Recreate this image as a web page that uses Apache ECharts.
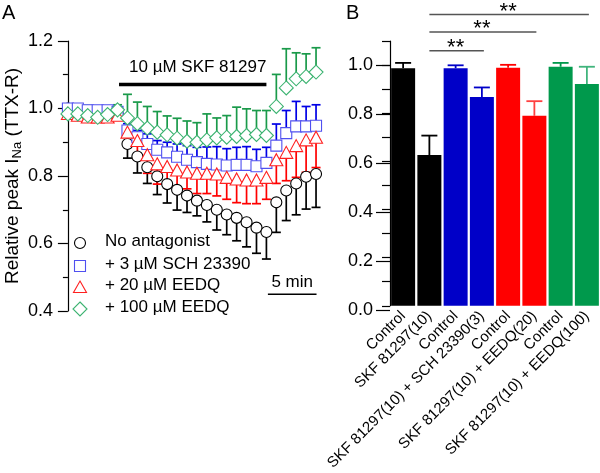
<!DOCTYPE html>
<html><head><meta charset="utf-8">
<script src="https://cdn.jsdelivr.net/npm/echarts@6/dist/echarts.min.js"></script>
<style>html,body{margin:0;padding:0;background:#fff}#c{width:600px;height:473px}</style>
</head><body><div id="c"></div>
<script>
// ---------- Panel A data (time in min, relative peak INa) ----------
const timeMin = [0,1,2,3,4,5,6,7,8,9,10,11,12,13,14,15,16,17,18,19,20,21,22,23,24,25];
const noAntagonist    = [1.00,0.99,0.99,0.985,0.985,0.985,0.895,0.858,0.826,0.799,0.776,0.759,0.742,0.727,0.714,0.700,0.686,0.676,0.663,0.647,0.634,0.722,0.757,0.778,0.798,0.806];
const noAntagonistErr = [0.01,0.01,0.01,0.01,0.01,0.012,0.042,0.049,0.048,0.054,0.056,0.06,0.05,0.045,0.05,0.06,0.06,0.068,0.073,0.076,0.08,0.089,0.089,0.093,0.096,0.099];
const sch3    = [1.00,1.00,0.995,0.995,0.995,0.99,0.935,0.915,0.895,0.878,0.870,0.857,0.848,0.841,0.836,0.834,0.831,0.833,0.833,0.829,0.839,0.890,0.927,0.947,0.947,0.949];
const sch3Err = [0.01,0.008,0.01,0.008,0.01,0.01,0.02,0.02,0.03,0.027,0.03,0.038,0.042,0.044,0.05,0.053,0.05,0.052,0.054,0.05,0.046,0.064,0.067,0.074,0.059,0.062];
const eedq20    = [0.985,0.98,0.975,0.975,0.975,0.98,0.930,0.905,0.863,0.836,0.828,0.818,0.812,0.808,0.808,0.806,0.796,0.791,0.788,0.788,0.796,0.848,0.870,0.890,0.907,0.915];
const eedq20Err = [0.01,0.01,0.01,0.01,0.01,0.01,0.04,0.055,0.055,0.06,0.05,0.06,0.05,0.06,0.06,0.065,0.065,0.07,0.07,0.07,0.065,0.07,0.084,0.094,0.096,0.09];
const eedq100    = [0.984,0.984,0.979,0.974,0.982,0.996,0.972,0.955,0.942,0.930,0.922,0.912,0.903,0.900,0.907,0.913,0.915,0.917,0.920,0.923,0.920,1.006,1.061,1.088,1.095,1.108];
const eedq100Err = [0.02,0.015,0.03,0.02,0.015,0.015,0.07,0.064,0.064,0.061,0.056,0.059,0.06,0.058,0.077,0.059,0.064,0.087,0.079,0.071,0.074,0.095,0.116,0.077,0.067,0.072];
const legendNames = ['No antagonist', '+ 3 \u00b5M SCH 23390', '+ 20 \u00b5M EEDQ', '+ 100 \u00b5M EEDQ'];
const drugPeriod = [5.15, 20.0];
const drugLabel = '10 \u00b5M SKF 81297';
const scaleBarMin = [20.15, 25.05];
const scaleLabel = '5 min';

// ---------- Panel B data ----------
const barCategories = ['Control','SKF 81297(10)','Control','SKF 81297(10) + SCH 23390(3)','Control','SKF 81297(10) + EEDQ(20)','Control','SKF 81297(10) + EEDQ(100)'];
const barValues = [0.987,0.626,0.987,0.867,0.989,0.789,0.993,0.921];
const barErrors = [0.022,0.081,0.012,0.040,0.012,0.061,0.016,0.072];
const sigPairs = [[1,3],[1,5],[1,7]];
const sigLevels = [1.060,1.137,1.210];
const sigText = '**';

const FONT = '"Liberation Sans", Arial, sans-serif';
const barColors = ['#000000','#000000','#0000c8','#0000c8','#ff0000','#ff0000','#00994c','#00994c'];
const barErrColors = ['#000000','#000000','#0000c8','#0000c8','#ff0000','#ff4040','#00994c','#40b47c'];

const chart = echarts.init(document.getElementById('c'), null, {renderer:'canvas'});

function errSeries(means, errs, dir, color) {
  return {
    type:'custom', xAxisIndex:0, yAxisIndex:0, clip:false, silent:true,
    data: timeMin.map((t,i)=>[t, means[i], errs[i]]),
    renderItem:(params, api)=>{
      const x=api.value(0), y=api.value(1), e=api.value(2);
      const p0=api.coord([x,y]), p1=api.coord([x,y+dir*e]);
      return {type:'group', children:[
        {type:'line', shape:{x1:p0[0],y1:p0[1],x2:p1[0],y2:p1[1]}, style:{stroke:color,lineWidth:1.7}},
        {type:'line', shape:{x1:p1[0]-4.5,y1:p1[1],x2:p1[0]+4.5,y2:p1[1]}, style:{stroke:color,lineWidth:1.7}}
      ]};
    }
  };
}
function markerSeries(name, means, symbol, size, color) {
  return {
    name, type:'scatter', xAxisIndex:0, yAxisIndex:0, clip:false, silent:true,
    symbol, symbolSize:size,
    itemStyle:{color:'#ffffff', borderColor:color, borderWidth:1.1, opacity:1},
    data: timeMin.map((t,i)=>[t, means[i]])
  };
}

const legendSymbols = [
  {type:'circle', shape:{cx:80, cy:243, r:5.5}, style:{fill:'#fff', stroke:'#000', lineWidth:1.1}},
  {type:'rect', shape:{x:74.5, y:260.5, width:11, height:11}, style:{fill:'#fff', stroke:'#5050f0', lineWidth:1.1}},
  {type:'polygon', shape:{points:[[80,281],[86.5,292.5],[73.5,292.5]]}, style:{fill:'#fff', stroke:'#ff2020', lineWidth:1.1}},
  {type:'polygon', shape:{points:[[80,302],[87,309],[80,316],[73,309]]}, style:{fill:'#fff', stroke:'#3cb371', lineWidth:1.1}}
];
const legendTexts = legendNames.map((n,i)=>({
  type:'text', left:105, top:[243,265.5,287,308.5][i]-10,
  style:{text:n, font:'17px '+FONT, fill:'#000'}
}));

const option = {
  animation:false,
  backgroundColor:'#fff',
  grid:[
    {left:63, top:41, width:258, height:270},
    {left:390, top:41, width:211, height:269},
    {left:390, top:41+269*0.1/1.1, width:211, height:269*1.0/1.1}
  ],
  xAxis:[
    {gridIndex:0, type:'value', min:-0.2, max:25.5, show:false},
    {gridIndex:1, type:'category', data:barCategories,
      axisLine:{show:false}, axisTick:{show:false},
      axisLabel:{interval:0, rotate:45, margin:8, fontSize:15, fontFamily:FONT, color:'#000'}},
    {gridIndex:2, type:'value', min:0, max:1, show:false}
  ],
  yAxis:[
    {gridIndex:0, type:'value', min:0.4, max:1.2, interval:0.2,
      axisLine:{show:true, lineStyle:{color:'#000', width:1.2}},
      axisTick:{show:true, length:10, lineStyle:{color:'#000', width:1.2}},
      minorTick:{show:true, splitNumber:2, length:5, lineStyle:{color:'#000', width:1.2}},
      splitLine:{show:false},
      axisLabel:{fontSize:18, fontFamily:FONT, color:'#000', margin:13, formatter:v=>v.toFixed(1)},
      name:'{a|Relative peak I}{s|Na}{a| (TTX-R)}', nameLocation:'middle', nameGap:37, nameRotate:90,
      nameTextStyle:{color:'#000', fontFamily:FONT, fontSize:19,
        rich:{a:{fontSize:19, fontFamily:FONT, color:'#000', lineHeight:21},
              s:{fontSize:13, fontFamily:FONT, color:'#000', lineHeight:13, padding:[10,0,0,0]}}}},
    {gridIndex:1, type:'value', min:0, max:1.1, interval:0.1,
      axisLine:{show:true, lineStyle:{color:'#000', width:1.2}},
      axisTick:{show:true, length:8, lineStyle:{color:'#000', width:1.2}},
      axisLabel:{show:false}, splitLine:{show:false}},
    {gridIndex:2, type:'value', min:0, max:1.0, interval:0.2,
      axisLine:{show:false},
      axisTick:{show:true, length:14, lineStyle:{color:'#000', width:1.2}},
      axisLabel:{fontSize:18, fontFamily:FONT, color:'#000', margin:17, formatter:v=>v.toFixed(1)},
      splitLine:{show:false}}
  ],
  graphic:[
    {type:'text', left:2, top:3, style:{text:'A', font:'20px '+FONT, fill:'#000'}},
    {type:'text', left:346, top:3, style:{text:'B', font:'20px '+FONT, fill:'#000'}},
    ...legendSymbols, ...legendTexts
  ],
  series:[
    // Panel A annotations
    {type:'custom', xAxisIndex:0, yAxisIndex:0, clip:false, silent:true,
      data:[[drugPeriod[0], drugPeriod[1], 1.071, 1.122]],
      renderItem:(p, api)=>{
        const a=api.coord([api.value(0), api.value(2)]), b=api.coord([api.value(1), api.value(2)]);
        const t=api.coord([(api.value(0)+api.value(1))/2+0.5, api.value(3)]);
        return {type:'group', children:[
          {type:'line', shape:{x1:a[0],y1:a[1],x2:b[0],y2:b[1]}, style:{stroke:'#000', lineWidth:3.5}},
          {type:'text', x:t[0], y:t[1], style:{text:drugLabel, font:'17px '+FONT, fill:'#000', align:'center', verticalAlign:'middle'}}
        ]};
      }},
    {type:'custom', xAxisIndex:0, yAxisIndex:0, clip:false, silent:true,
      data:[[scaleBarMin[0], scaleBarMin[1], 0.45, 0.484]],
      renderItem:(p, api)=>{
        const a=api.coord([api.value(0), api.value(2)]), b=api.coord([api.value(1), api.value(2)]);
        const t=api.coord([(api.value(0)+api.value(1))/2, api.value(3)]);
        return {type:'group', children:[
          {type:'line', shape:{x1:a[0],y1:a[1],x2:b[0],y2:b[1]}, style:{stroke:'#000', lineWidth:1.5}},
          {type:'text', x:t[0], y:t[1], style:{text:scaleLabel, font:'17px '+FONT, fill:'#000', align:'center', verticalAlign:'middle'}}
        ]};
      }},
    errSeries(noAntagonist, noAntagonistErr, -1, '#000000'),
    markerSeries(legendNames[0], noAntagonist, 'circle', 11, '#000000'),
    errSeries(sch3, sch3Err, 1, '#0000e6'),
    markerSeries(legendNames[1], sch3, 'rect', 11, '#5050f0'),
    errSeries(eedq20, eedq20Err, -1, '#ff0000'),
    markerSeries(legendNames[2], eedq20, 'triangle', [13,12], '#ff2020'),
    errSeries(eedq100, eedq100Err, 1, '#1a9a4a'),
    markerSeries(legendNames[3], eedq100, 'diamond', [14,14], '#3cb371'),
    // Panel B
    {type:'bar', xAxisIndex:1, yAxisIndex:1, barWidth:24, silent:true,
      data: barValues.map((v,i)=>({value:v, itemStyle:{color:barColors[i]}}))},
    {type:'custom', xAxisIndex:1, yAxisIndex:1, clip:false, silent:true, z:3,
      data: barValues.map((v,i)=>[i, v, barErrors[i]]),
      renderItem:(p, api)=>{
        const i=api.value(0), v=api.value(1), e=api.value(2);
        const a=api.coord([i,v]), b=api.coord([i,v+e]);
        const c=barErrColors[i];
        return {type:'group', children:[
          {type:'line', shape:{x1:a[0],y1:a[1],x2:b[0],y2:b[1]}, style:{stroke:c,lineWidth:1.8}},
          {type:'line', shape:{x1:b[0]-8,y1:b[1],x2:b[0]+8,y2:b[1]}, style:{stroke:c,lineWidth:1.8}}
        ]};
      }},
    {type:'custom', xAxisIndex:1, yAxisIndex:1, clip:false, silent:true, z:3,
      data: sigPairs.map((pr,i)=>[pr[0], pr[1], sigLevels[i]]),
      renderItem:(p, api)=>{
        const a=api.coord([api.value(0), api.value(2)]), b=api.coord([api.value(1), api.value(2)]);
        return {type:'group', children:[
          {type:'line', shape:{x1:a[0],y1:a[1],x2:b[0]+2,y2:b[1]}, style:{stroke:'#555', lineWidth:1.5}},
          {type:'text', x:(a[0]+b[0])/2, y:a[1]-3, style:{text:sigText, font:'22px '+FONT, fill:'#000', align:'center', verticalAlign:'middle'}}
        ]};
      }}
  ]
};
chart.setOption(option);
</script>
</body></html>
